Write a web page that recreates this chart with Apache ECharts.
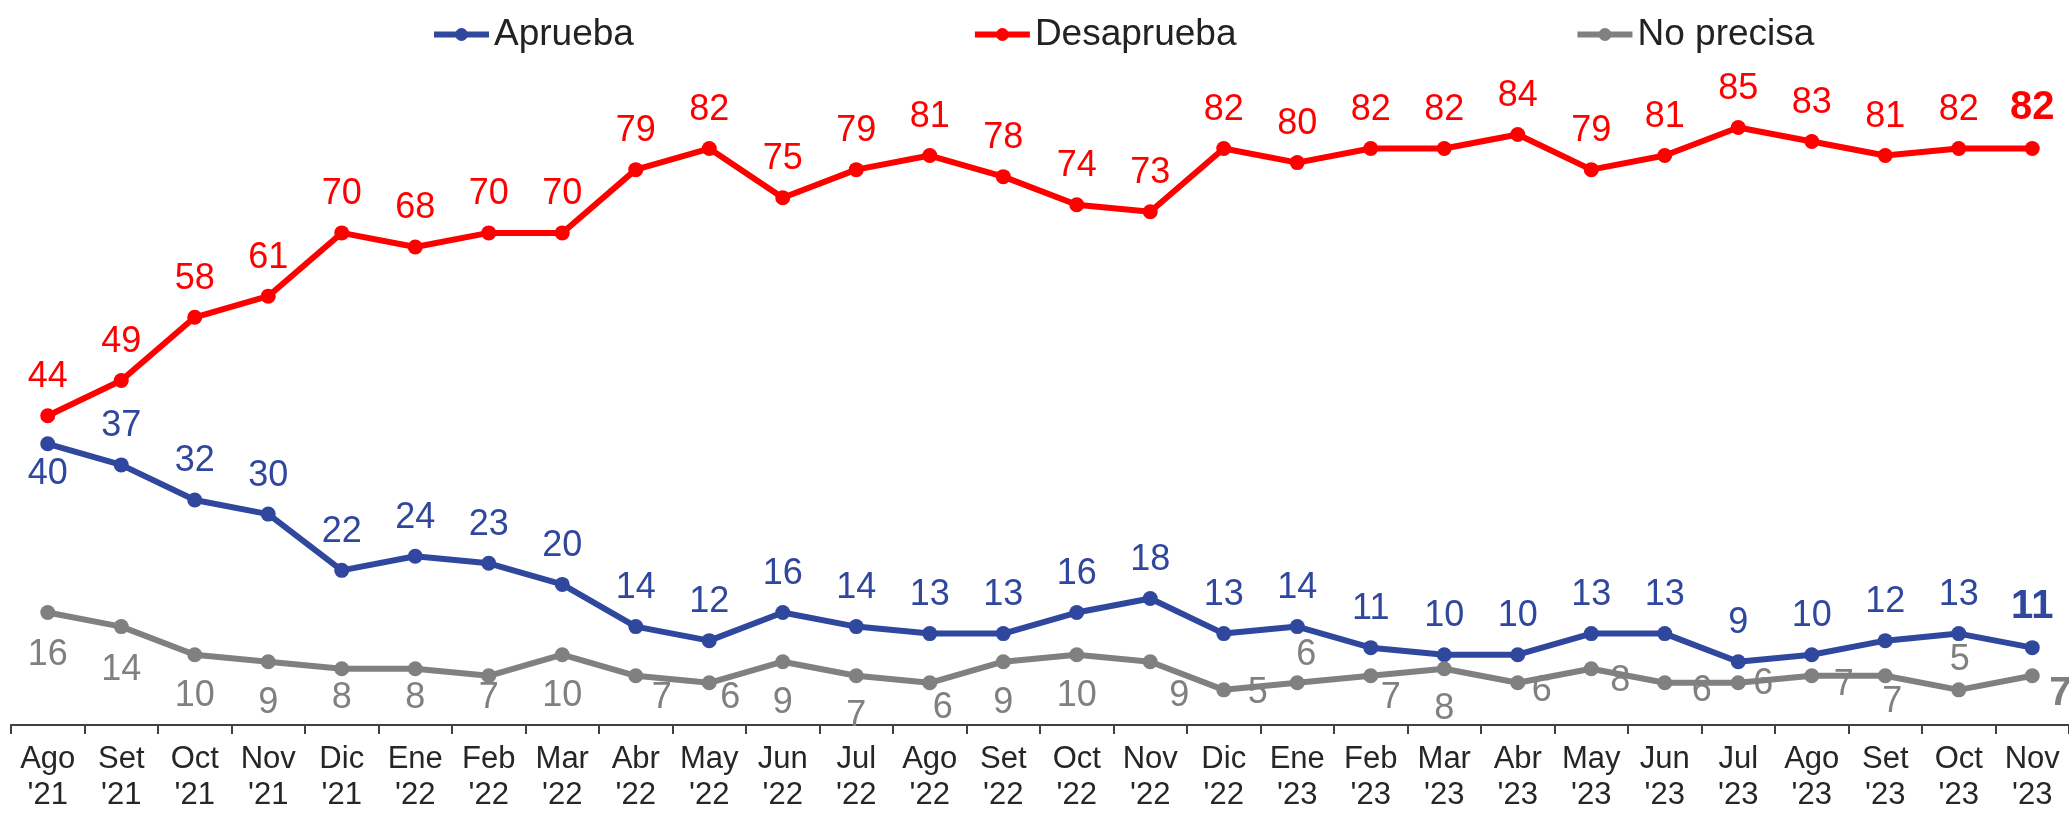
<!DOCTYPE html>
<html>
<head>
<meta charset="utf-8">
<script src="https://cdn.jsdelivr.net/npm/echarts@6/dist/echarts.min.js"></script>
<style>
html,body{margin:0;padding:0;background:#fff;}
#chart{width:2069px;height:813px;}
</style>
</head>
<body>
<div id="chart"></div>
<script>
const categories = ["Ago\n'21","Set\n'21","Oct\n'21","Nov\n'21","Dic\n'21","Ene\n'22","Feb\n'22","Mar\n'22","Abr\n'22","May\n'22","Jun\n'22","Jul\n'22","Ago\n'22","Set\n'22","Oct\n'22","Nov\n'22","Dic\n'22","Ene\n'23","Feb\n'23","Mar\n'23","Abr\n'23","May\n'23","Jun\n'23","Jul\n'23","Ago\n'23","Set\n'23","Oct\n'23","Nov\n'23"];
const aprueba = [40,37,32,30,22,24,23,20,14,12,16,14,13,13,16,18,13,14,11,10,10,13,13,9,10,12,13,11];
const desaprueba = [44,49,58,61,70,68,70,70,79,82,75,79,81,78,74,73,82,80,82,82,84,79,81,85,83,81,82,82];
const noPrecisa = [16,14,10,9,8,8,7,10,7,6,9,7,6,9,10,9,5,6,7,8,6,8,6,6,7,7,5,7];

// label placement (offset of label centre from the point centre, px)
const grayLabelOffset = [[0,43],[0,43],[0,41],[0,41],[0,29],[0,29],[0,22],[0,41],[26,22],[21,15],[0,41],[0,40],[13,25],[0,41],[0,41],[29,34],[34,3],[9,-28],[20,22],[0,40],[24,8],[29,12],[37,8],[25,1],[32,9],[7,26],[1,-30],[28,18]];

const BLUE = '#2f479d', RED = '#ff0000', GRAY = '#808080';
const FONT = "'Liberation Sans', Arial, sans-serif";
const last = categories.length - 1;

function topSeriesData(values, belowIdx) {
  return values.map((v, i) => {
    const item = { value: v };
    if (i === last) {
      item.label = { fontWeight: 'bold', fontSize: 40 };
    }
    if (belowIdx && belowIdx.indexOf(i) >= 0) {
      item.label = Object.assign({}, item.label || {}, { position: 'bottom', distance: 5 });
    }
    return item;
  });
}

const blueData = topSeriesData(aprueba, [0]);
const redData = topSeriesData(desaprueba, null);
const grayData = noPrecisa.map((v, i) => {
  const item = { value: v, label: { position: 'inside', offset: grayLabelOffset[i] } };
  if (i === last) { item.label.fontWeight = 'bold'; item.label.fontSize = 40; }
  return item;
});

function lineSeries(name, data, color, labelCfg) {
  return {
    name: name,
    type: 'line',
    data: data,
    symbol: 'circle',
    symbolSize: 15,
    lineStyle: { color: color, width: 6 },
    itemStyle: { color: color },
    label: Object.assign({
      show: true,
      color: color,
      fontSize: 36,
      fontFamily: FONT
    }, labelCfg),
    emphasis: { disabled: true },
    animation: false
  };
}

const chart = echarts.init(document.getElementById('chart'), null, { renderer: 'canvas' });
chart.setOption({
  backgroundColor: '#ffffff',
  animation: false,
  legend: {
    left: 426,
    top: 11,
    itemGap: 338,
    itemWidth: 55,
    itemHeight: 16,
    lineStyle: { width: 6 },
    textStyle: { fontSize: 37, color: '#222222', fontFamily: FONT },
    data: ['Aprueba', 'Desaprueba', 'No precisa']
  },
  grid: { left: 11, right: 0, top: 22, bottom: 87, containLabel: false },
  xAxis: {
    type: 'category',
    data: categories,
    boundaryGap: true,
    axisLine: { lineStyle: { color: '#404040', width: 2 } },
    axisTick: { show: true, length: 9, lineStyle: { color: '#404040', width: 2 } },
    axisLabel: { fontSize: 31, lineHeight: 36, color: '#262626', fontFamily: FONT, margin: 16, interval: 0 }
  },
  yAxis: {
    type: 'value',
    min: 0,
    max: 100,
    show: false,
    splitLine: { show: false }
  },
  series: [
    lineSeries('Aprueba', blueData, BLUE, { position: 'top', distance: 13 }),
    lineSeries('Desaprueba', redData, RED, { position: 'top', distance: 13 }),
    lineSeries('No precisa', grayData, GRAY, { position: 'inside' })
  ]
});
</script>
</body>
</html>
